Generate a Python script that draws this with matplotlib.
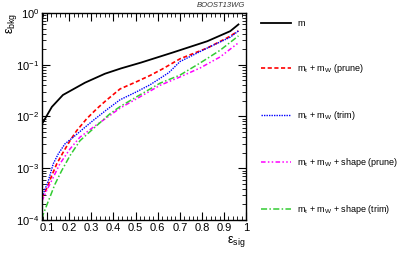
import numpy as np
import matplotlib.pyplot as plt
from matplotlib.ticker import MultipleLocator, LogLocator, NullFormatter, FixedLocator

plt.rcParams['font.family'] = ['Liberation Sans', 'DejaVu Sans']
plt.rcParams['mathtext.default'] = 'regular'

# signal efficiency -> background efficiency
sig_m = [0.077, 0.122, 0.172, 0.272, 0.362, 0.435, 0.525, 0.67, 0.824, 0.928, 0.965]
bkg_m = [7.1e-3, 0.0153, 0.026, 0.045, 0.067, 0.085, 0.11, 0.173, 0.284, 0.445, 0.60]

sig_prune = [0.077, 0.098, 0.121, 0.144, 0.173, 0.204, 0.234, 0.279, 0.325, 0.365, 0.43, 0.505, 0.566, 0.62, 0.701, 0.824, 0.914, 0.965]
bkg_prune = [2.7e-4, 4.0e-4, 7.1e-4, 1.21e-3, 2.03e-3, 3.4e-3, 5.3e-3, 9.0e-3, 0.0141, 0.020, 0.034, 0.047, 0.062, 0.082, 0.13, 0.21, 0.33, 0.45]

sig_trim = [0.077, 0.083, 0.106, 0.128, 0.151, 0.181, 0.219, 0.264, 0.309, 0.37, 0.43, 0.505, 0.566, 0.65, 0.701, 0.824, 0.928, 0.965]
bkg_trim = [2.8e-4, 3.2e-4, 5.7e-4, 1.21e-3, 1.89e-3, 2.95e-3, 3.98e-3, 5.8e-3, 8.4e-3, 0.0135, 0.021, 0.030, 0.041, 0.07, 0.115, 0.21, 0.34, 0.45]

sig_shape_prune = [0.077, 0.098, 0.128, 0.158, 0.204, 0.249, 0.309, 0.385, 0.43, 0.505, 0.566, 0.611, 0.701, 0.792, 0.882, 0.965]
bkg_shape_prune = [2.3e-4, 3.66e-4, 6.6e-4, 1.21e-3, 2.36e-3, 3.98e-3, 6.2e-3, 0.0105, 0.0145, 0.022, 0.031, 0.040, 0.058, 0.0865, 0.141, 0.265]

sig_shape_trim = [0.077, 0.083, 0.106, 0.136, 0.166, 0.204, 0.249, 0.309, 0.385, 0.43, 0.505, 0.566, 0.611, 0.701, 0.792, 0.882, 0.965]
bkg_shape_trim = [1.05e-4, 1.29e-4, 2.3e-4, 4.9e-4, 8.9e-4, 1.75e-3, 3.4e-3, 5.8e-3, 0.0113, 0.0155, 0.024, 0.034, 0.044, 0.063, 0.108, 0.19, 0.36]

labels = ['m',
          'm$_t$ + m$_W$ (prune)',
          'm$_t$ + m$_W$ (trim)',
          'm$_t$ + m$_W$ + shape (prune)',
          'm$_t$ + m$_W$ + shape (trim)']

fig = plt.figure(figsize=(3.99, 2.54), dpi=100)
ax = fig.add_axes([0.105, 0.134, 0.512, 0.815])

ax.plot(sig_m, bkg_m, color='black', lw=1.3, label=labels[0])
ax.plot(sig_prune, bkg_prune, color='red', lw=1.2, ls=(0, (2.5, 1.5)), label=labels[1])
ax.plot(sig_trim, bkg_trim, color='blue', lw=1.0, ls=(0, (1, 0.8)), label=labels[2])
ax.plot(sig_shape_prune, bkg_shape_prune, color='magenta', lw=1.1, ls=(0, (3, 1.5, 1, 1.5, 1, 1.5)), label=labels[3])
ax.plot(sig_shape_trim, bkg_shape_trim, color='#33cc33', lw=1.1, ls=(0, (4, 1.5, 1, 1.5)), label=labels[4])

ax.set_yscale('log')
ax.set_xlim(0.077, 1.0)
ax.set_ylim(1e-4, 1)

ax.xaxis.set_major_locator(FixedLocator([0.1, 0.2, 0.3, 0.4, 0.5, 0.6, 0.7, 0.8, 0.9, 1.0]))
ax.set_xticklabels(['0.1', '0.2', '0.3', '0.4', '0.5', '0.6', '0.7', '0.8', '0.9', '1'])
ax.xaxis.set_minor_locator(MultipleLocator(0.02))
ax.yaxis.set_major_locator(LogLocator(base=10, numticks=10))
ax.yaxis.set_minor_locator(LogLocator(base=10, subs=np.arange(2, 10), numticks=10))
ax.yaxis.set_minor_formatter(NullFormatter())

ax.tick_params(which='both', direction='in', top=True, right=True, labelsize=8, pad=2)
ax.tick_params(which='major', length=6, width=0.8)
ax.tick_params(which='minor', length=3, width=0.6)
for s in ax.spines.values():
    s.set_linewidth(1.0)

fig.text(0.03, 0.95, 'ε$_{bkg}$', rotation=90, ha='center', va='top', fontsize=9)
fig.text(0.615, 0.02, 'ε$_{sig}$', ha='right', va='bottom', fontsize=9)
fig.text(0.615, 0.965, 'BOOST13WG', ha='right', va='bottom', fontsize=5.5, style='italic', color='#333333')

fig.legend(loc='upper left', bbox_to_anchor=(0.645, 0.94), frameon=False, fontsize=6.5,
           handlelength=3.3, handletextpad=0.7, labelspacing=3.77, borderaxespad=0)

fig.savefig('out.png', dpi=100)
